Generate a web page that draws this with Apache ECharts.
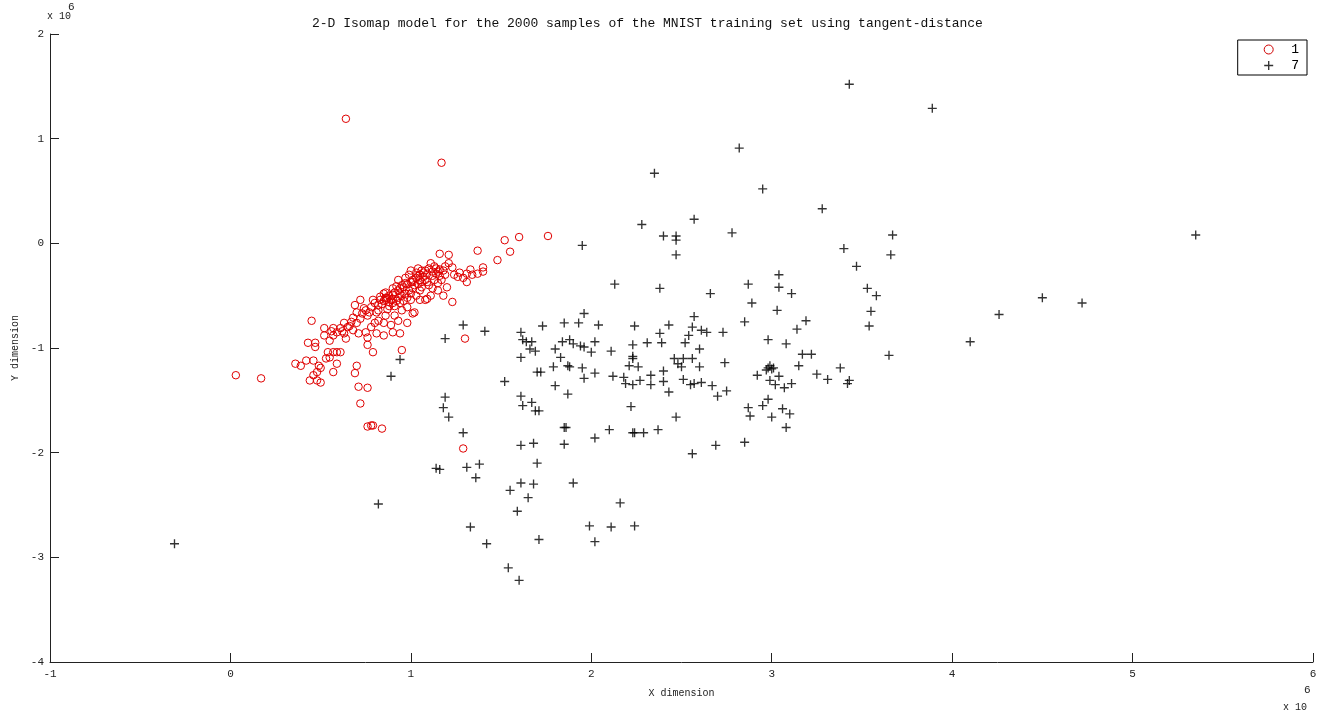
<!DOCTYPE html>
<html><head><meta charset="utf-8">
<script src="https://cdn.jsdelivr.net/npm/echarts@6/dist/echarts.min.js"></script>
<style>html,body{margin:0;padding:0;background:#fff}#c{width:1325px;height:715px}</style>
</head><body><div id="c"></div>
<script>
// values in units of 10^6
const xTicks = [-1,0,1,2,3,4,5,6];
const yTicks = [-4,-3,-2,-1,0,1,2];
const seriesNames = ['1','7'];
const digit1 = [
[1.76,0.07],[1.60,0.06],[1.52,0.03],[1.55,-0.08],[1.48,-0.16],[1.37,-0.07],[1.21,-0.11],[1.16,-0.10],[1.11,-0.19],[1.23,-0.23],
[1.40,-0.23],[1.40,-0.27],[1.37,-0.29],[1.34,-0.30],[1.31,-0.29],[1.31,-0.37],[1.27,-0.28],[1.26,-0.32],[1.20,-0.42],[1.23,-0.56],
[1.18,-0.26],[1.16,-0.31],[1.15,-0.38],[1.15,-0.45],[1.12,-0.43],[1.09,-0.37],[1.06,-0.26],[1.04,-0.24],[1.00,-0.26],[1.04,-0.31],
[1.01,-0.37],[0.97,-0.33],[0.95,-0.40],[0.93,-0.35],[0.90,-0.43],[0.87,-0.52],[0.85,-0.48],[0.89,-0.54],[0.83,-0.54],[0.79,-0.54],
[0.78,-0.61],[0.82,-0.64],[0.74,-0.62],[0.76,-0.69],[0.72,-0.72],[0.68,-0.71],[0.67,-0.75],[0.63,-0.76],[0.65,-0.80],[0.61,-0.81],
[0.59,-0.85],[0.57,-0.81],[0.57,-0.88],[0.52,-0.81],[0.52,-0.88],[0.45,-0.74],[0.63,-0.86],[0.68,-0.83],[0.71,-0.86],[0.75,-0.85],
[0.78,-0.80],[0.80,-0.76],[0.82,-0.74],[0.85,-0.76],[0.85,-0.88],[0.81,-0.86],[0.90,-0.85],[0.94,-0.86],[0.93,-0.74],[0.98,-0.76],
[1.01,-0.67],[0.98,-0.61],[0.94,-0.57],[1.00,-0.54],[1.05,-0.54],[1.08,-0.54],[1.09,-0.53],[1.02,-0.66],[0.76,-0.90],[0.76,-0.97],
[0.79,-1.04],[0.95,-1.02],[0.43,-0.95],[0.47,-0.99],[0.47,-0.95],[0.54,-1.04],[0.57,-1.04],[0.59,-1.04],[0.61,-1.04],[0.55,-1.09],
[0.59,-1.15],[0.53,-1.10],[0.46,-1.12],[0.42,-1.12],[0.36,-1.15],[0.39,-1.17],[0.49,-1.17],[0.50,-1.19],[0.48,-1.23],[0.46,-1.26],
[0.44,-1.31],[0.48,-1.31],[0.50,-1.33],[0.57,-1.23],[0.70,-1.17],[0.69,-1.24],[0.71,-1.37],[0.76,-1.38],[0.72,-1.53],[0.76,-1.75],
[0.78,-1.74],[0.79,-1.74],[0.84,-1.77],[1.30,-0.91],[0.64,1.19],[1.17,0.77],[0.03,-1.26],[0.17,-1.29],[1.29,-1.96],
[0.86,-0.52],[0.88,-0.50],[0.86,-0.54],[0.90,-0.49],[0.91,-0.47],[0.93,-0.45],[0.94,-0.43],[0.96,-0.42],[0.98,-0.39],[1.00,-0.37],
[1.01,-0.35],[1.03,-0.33],[1.05,-0.30],[1.07,-0.28],[1.08,-0.26],[1.10,-0.24],[1.13,-0.22],[1.14,-0.24],[0.88,-0.56],[0.85,-0.55],
[0.83,-0.51],[0.90,-0.57],[0.91,-0.60],[0.82,-0.59],[0.93,-0.52],[0.95,-0.50],[0.97,-0.48],[0.99,-0.45],[1.01,-0.43],[1.04,-0.39],
[1.06,-0.37],[1.08,-0.35],[1.12,-0.31],[1.14,-0.29],[1.15,-0.27],[1.19,-0.22],[1.21,-0.19],[0.69,-0.59],[0.72,-0.54],[0.75,-0.64],
[0.91,-0.69],[0.86,-0.69],[0.89,-0.78],[1.05,-0.45],[1.11,-0.50],[1.18,-0.50],[1.03,-0.50],
[0.84,-0.58],[0.86,-0.47],[0.88,-0.60],[0.90,-0.53],[0.92,-0.55],[0.92,-0.41],[0.94,-0.48],[0.96,-0.55],[0.97,-0.38],[0.98,-0.52],
[1.00,-0.48],[1.02,-0.40],[1.03,-0.28],[1.05,-0.35],[1.06,-0.42],[1.07,-0.32],[1.09,-0.29],[1.10,-0.40],[1.12,-0.27],[1.13,-0.35],
[1.16,-0.25],[1.17,-0.35],[1.19,-0.30],[0.80,-0.57],[0.81,-0.66],[0.77,-0.66],[0.73,-0.67],[0.70,-0.66],[0.66,-0.79],[0.62,-0.84],
[0.56,-0.84],[0.55,-0.93],[0.64,-0.91],[0.70,-0.76],[0.87,-0.63],[0.95,-0.64],[1.24,-0.30],[1.29,-0.33],[1.33,-0.25],[0.99,-0.30]
];
const digit7 = [
[3.43,1.52],[3.89,1.29],[2.82,0.91],[2.35,0.67],[2.95,0.52],[3.28,0.33],[2.28,0.18],[2.57,0.23],[2.40,0.07],[2.47,0.07],
[2.47,0.03],[2.78,0.10],[3.67,0.08],[1.95,-0.02],[3.40,-0.05],[2.47,-0.11],[2.13,-0.39],[2.38,-0.43],[2.66,-0.48],[2.57,-0.70],
[2.56,-0.80],[2.61,-0.83],[2.64,-0.85],[2.73,-0.85],[2.54,-0.88],[1.29,-0.78],[1.41,-0.84],[1.19,-0.91],[1.61,-0.85],[1.62,-0.92],
[1.64,-0.94],[1.67,-0.94],[1.66,-1.01],[1.69,-1.03],[1.61,-1.09],[1.73,-0.79],[1.85,-0.76],[1.93,-0.76],[1.96,-0.67],[2.04,-0.78],
[1.84,-0.94],[1.88,-0.92],[1.90,-0.96],[1.94,-0.98],[1.96,-0.99],[2.00,-1.04],[2.02,-0.94],[1.80,-1.01],[1.83,-1.09],[2.11,-1.03],
[2.24,-0.79],[2.23,-0.97],[2.23,-1.08],[2.23,-1.10],[2.21,-1.17],[2.26,-1.18],[2.31,-0.95],[2.39,-0.95],[2.38,-0.86],[2.43,-0.78],
[2.52,-0.95],[2.60,-1.01],[2.46,-1.10],[2.51,-1.10],[2.56,-1.10],[2.48,-1.15],[2.50,-1.18],[2.60,-1.18],[2.74,-1.14],[1.70,-1.23],
[1.72,-1.23],[1.79,-1.18],[1.87,-1.17],[1.88,-1.18],[1.95,-1.19],[2.02,-1.24],[1.96,-1.29],[1.52,-1.32],[2.12,-1.27],[2.18,-1.28],
[2.19,-1.34],[2.23,-1.35],[2.27,-1.31],[2.33,-1.26],[2.33,-1.35],[2.40,-1.22],[2.40,-1.32],[2.51,-1.30],[2.55,-1.35],[2.57,-1.34],
[2.61,-1.33],[2.67,-1.36],[2.70,-1.46],[2.75,-1.41],[2.43,-1.42],[1.80,-1.36],[1.87,-1.44],[1.61,-1.46],[1.62,-1.55],[1.67,-1.52],
[1.69,-1.60],[1.71,-1.60],[1.19,-1.47],[1.18,-1.57],[1.21,-1.66],[1.29,-1.81],[2.22,-1.56],[2.47,-1.66],[1.85,-1.76],[1.86,-1.76],
[2.10,-1.78],[2.23,-1.81],[2.24,-1.81],[2.29,-1.81],[2.37,-1.78],[2.02,-1.86],[1.61,-1.93],[1.68,-1.91],[1.85,-1.92],[2.69,-1.93],
[2.56,-2.01],[2.85,-1.90],[3.08,-1.76],[3.66,-0.11],[3.47,-0.22],[3.53,-0.43],[3.58,-0.50],[3.55,-0.65],[3.54,-0.79],[3.65,-1.07],
[4.26,-0.68],[4.10,-0.94],[3.04,-0.30],[2.87,-0.39],[3.04,-0.42],[3.11,-0.48],[2.89,-0.57],[3.03,-0.64],[2.85,-0.75],[3.19,-0.74],
[3.14,-0.82],[2.98,-0.92],[3.08,-0.96],[3.17,-1.06],[3.22,-1.06],[3.15,-1.17],[2.98,-1.19],[3.01,-1.19],[2.97,-1.21],[2.99,-1.17],
[3.00,-1.20],[2.92,-1.26],[3.04,-1.27],[2.99,-1.31],[3.02,-1.35],[3.07,-1.38],[3.11,-1.34],[3.25,-1.25],[3.31,-1.30],[3.38,-1.19],
[3.43,-1.31],[3.42,-1.34],[2.98,-1.49],[2.87,-1.57],[2.95,-1.55],[2.88,-1.65],[3.06,-1.58],[3.10,-1.63],[3.00,-1.66],
[1.14,-2.15],[1.16,-2.16],[1.31,-2.14],[1.38,-2.11],[1.36,-2.24],[0.82,-2.49],[1.70,-2.10],[1.61,-2.29],[1.68,-2.30],[1.55,-2.36],
[1.65,-2.43],[1.59,-2.56],[1.90,-2.29],[2.16,-2.48],[1.33,-2.71],[1.42,-2.87],[1.71,-2.83],[1.99,-2.70],[2.11,-2.71],[2.24,-2.70],
[2.02,-2.85],[1.54,-3.10],[1.60,-3.22],[0.89,-1.27],[0.94,-1.11],[-0.31,-2.87],[5.35,0.08],[4.50,-0.52],[4.72,-0.57]
];
const titleText = '2-D Isomap model for the 2000 samples of the MNIST training set using tangent-distance';
const plusPath = 'path://M4.25,0H5.75V4.25H10V5.75H5.75V10H4.25V5.75H0V4.25H4.25Z';
const mono = '"Liberation Mono", "DejaVu Sans Mono", monospace';

const chart = echarts.init(document.getElementById('c'), null, {renderer:'canvas'});
chart.setOption({
  animation: false,
  backgroundColor: '#fff',
  title: {text: titleText, left: 307, top: 12, textStyle: {fontFamily: mono, fontSize: 13, fontWeight: 'normal', color: '#111'}},
  grid: {left: 50, right: 12, top: 34, bottom: 53},
  legend: {
    orient: 'vertical', right: 18, top: 40,
    borderColor: '#000', borderWidth: 1, backgroundColor: '#fff',
    padding: [3, 8, 3, 26], itemGap: 3, itemWidth: 9, itemHeight: 9,
    textStyle: {fontFamily: mono, fontSize: 13, color: '#000', padding: [0, 0, 0, 13]},
    data: [
      {name: seriesNames[0], icon: 'circle', itemStyle: {color: 'transparent', borderColor: '#d00000', borderWidth: 1}},
      {name: seriesNames[1], icon: plusPath, itemStyle: {color: '#000'}}
    ]
  },
  xAxis: {
    type: 'value', min: -1, max: 6, interval: 1,
    name: 'X dimension', nameLocation: 'middle', nameGap: 26,
    nameTextStyle: {fontFamily: mono, fontSize: 10, color: '#222'},
    axisLine: {show: true, onZero: false, lineStyle: {color: '#222', width: 1}},
    axisTick: {show: true, inside: true, length: 9, lineStyle: {color: '#222'}},
    axisLabel: {fontFamily: mono, fontSize: 11, color: '#222', margin: 7,
      formatter: v => xTicks.includes(v) ? String(v) : ''},
    splitLine: {show: false}
  },
  yAxis: {
    type: 'value', min: -4, max: 2, interval: 1,
    name: 'Y dimension', nameLocation: 'middle', nameGap: 30, nameRotate: 90,
    nameTextStyle: {fontFamily: mono, fontSize: 10, color: '#222'},
    axisLine: {show: true, onZero: false, lineStyle: {color: '#222', width: 1}},
    axisTick: {show: true, inside: true, length: 9, lineStyle: {color: '#222'}},
    axisLabel: {fontFamily: mono, fontSize: 11, color: '#222', margin: 6,
      formatter: v => yTicks.includes(v) ? String(v) : ''},
    splitLine: {show: false}
  },
  graphic: [
    {type: 'text', left: 47, top: 11, style: {text: 'x 10', font: '10px ' + mono, fill: '#222'}},
    {type: 'text', left: 68, top: 2, style: {text: '6', font: '11px ' + mono, fill: '#222'}},
    {type: 'text', left: 1283, top: 702, style: {text: 'x 10', font: '10px ' + mono, fill: '#222'}},
    {type: 'text', left: 1304, top: 685, style: {text: '6', font: '11px ' + mono, fill: '#222'}}
  ],
  series: [
    {name: seriesNames[0], type: 'scatter', data: digit1, symbol: 'circle', symbolSize: 7.5,
     itemStyle: {color: 'transparent', borderColor: '#e00000', borderWidth: 1, opacity: 1}, z: 2},
    {name: seriesNames[1], type: 'scatter', data: digit7, symbol: plusPath, symbolSize: 9,
     itemStyle: {color: '#000'}, z: 3}
  ]
});
</script></body></html>
